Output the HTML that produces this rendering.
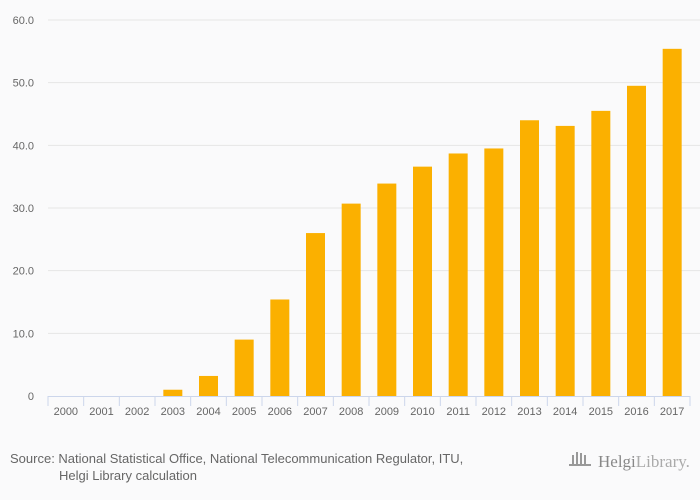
<!DOCTYPE html>
<html><head><meta charset="utf-8"><style>
body{margin:0;background:#fafafb;font-family:"Liberation Sans",sans-serif;}
svg{display:block}
</style></head><body>
<svg id="c" width="700" height="500">
<rect width="700" height="500" fill="#fafafb"/>
<g id="grid"></g><g id="bars"></g><g id="axes"></g>
<text x="10" y="463" font-size="13" fill="#666">Source: National Statistical Office, National Telecommunication Regulator, ITU,</text>
<text x="59" y="480" font-size="13" fill="#666">Helgi Library calculation</text>
<g>
<g fill="#999"><rect x="572" y="455" width="2" height="10"/><rect x="576" y="452" width="2" height="13"/><rect x="580" y="453" width="2" height="12"/><rect x="584" y="455" width="2" height="10"/><rect x="569" y="464" width="22" height="2"/></g>
<text x="598" y="467" font-size="17" fill="#888" font-family="Liberation Serif,serif">Helgi<tspan fill="#aaa">Library.</tspan></text>
</g>
</svg>
<script>
const categories=["2000","2001","2002","2003","2004","2005","2006","2007","2008","2009","2010","2011","2012","2013","2014","2015","2016","2017"];
const values=[0,0,0,1.0,3.2,9.0,15.4,26.0,30.7,33.9,36.6,38.7,39.5,44.0,43.1,45.5,49.5,55.4];
const yTicks=[0,10,20,30,40,50,60];
const yTickLabels=["0","10.0","20.0","30.0","40.0","50.0","60.0"];
const NS="http://www.w3.org/2000/svg";
const x0=48,x1=690,y0=396,y60=20;
const band=(x1-x0)/categories.length;
const y=v=>y0-(v/60)*(y0-y60);
const xb=i=>x0+i*band;
function mk(t,a,p){const e=document.createElementNS(NS,t);for(const k in a)e.setAttribute(k,a[k]);p.appendChild(e);return e;}
const grid=document.getElementById('grid'),bars=document.getElementById('bars'),axes=document.getElementById('axes');
yTicks.forEach((v,i)=>{
 if(v>0){const l=mk('line',{x1:x0,x2:x1+10,y1:y(v),y2:y(v),stroke:'#e6e6e6','stroke-width':1},grid);
 
 }
 const t=mk('text',{x:34,y:y(v)+4,'font-size':11,fill:'#666','text-anchor':'end'},axes);t.textContent=yTickLabels[i];
 
 
});
categories.forEach((c,i)=>{
 const w=19,cx=xb(i)+band/2;
 if(values[i]>0){const r=mk('rect',{x:cx-w/2,y:y(values[i]),width:w,height:y0-y(values[i]),fill:'#fbb000'},bars);
 
 }
 const t=mk('text',{x:cx,y:415,'font-size':11,fill:'#666','text-anchor':'middle'},axes);t.textContent=c;
 
 
});
for(let i=0;i<=categories.length;i++){const tk=mk('line',{x1:xb(i),x2:xb(i),y1:y0,y2:y0+10,stroke:'#ccd6eb'},axes);
 
 }
const ax=mk('line',{x1:x0,x2:x1,y1:y0+0.5,y2:y0+0.5,stroke:'#ccd6eb'},axes);


</script>
</body></html>
